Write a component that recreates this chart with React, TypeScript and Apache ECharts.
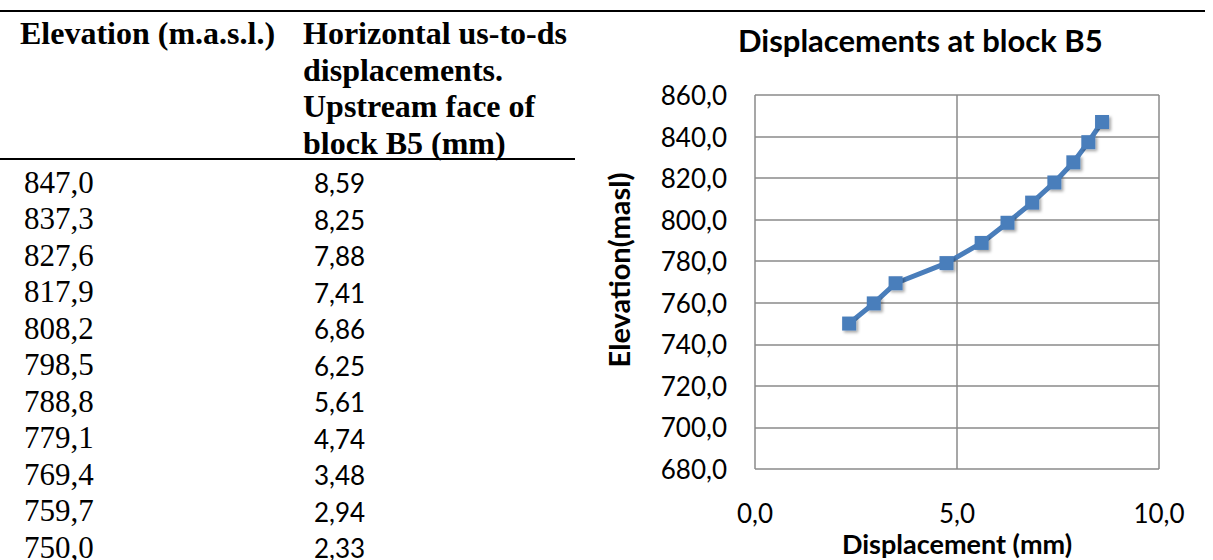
import React, { useEffect, useRef } from "react";
import * as echarts from "echarts";

const elevations = [847.0, 837.3, 827.6, 817.9, 808.2, 798.5, 788.8, 779.1, 769.4, 759.7, 750.0];
const displacements = [8.59, 8.25, 7.88, 7.41, 6.86, 6.25, 5.61, 4.74, 3.48, 2.94, 2.33];
const headerCol1 = ["Elevation (m.a.s.l.)"];
const headerCol2 = ["Horizontal us-to-ds", "displacements.", "Upstream face of", "block B5 (mm)"];
const chartTitle = "Displacements at block B5";
const xTitle = "Displacement (mm)";
const yTitle = "Elevation(masl)";

const comma = (v: number, d: number) => v.toFixed(d).replace(".", ",");

export default function App() {
  const ref = useRef<HTMLDivElement>(null);
  useEffect(() => {
    if (!ref.current) return;
    const chart = echarts.init(ref.current, undefined, { renderer: "svg" });
    const serif = "Liberation Serif";
    const sans = "Lato";
    const graphics: any[] = [];
    graphics.push({ type: "line", shape: { x1: 0, y1: 11, x2: 1205, y2: 11 }, style: { stroke: "#000", lineWidth: 2 } });
    graphics.push({ type: "line", shape: { x1: 0, y1: 159, x2: 575, y2: 159 }, style: { stroke: "#000", lineWidth: 2 } });
    headerCol1.forEach((t, i) => {
      graphics.push({ type: "text", x: 20, y: 33 + i * 36.6, style: { text: t, fontFamily: serif, fontWeight: "bold", fontSize: 32, fill: "#000", align: "left", verticalAlign: "middle" } });
    });
    headerCol2.forEach((t, i) => {
      graphics.push({ type: "text", x: 303, y: 33 + i * 36.6, style: { text: t, fontFamily: serif, fontWeight: "bold", fontSize: 32, fill: "#000", align: "left", verticalAlign: "middle" } });
    });
    elevations.forEach((e, i) => {
      const y = 182 + i * 36.5;
      graphics.push({ type: "text", x: 24, y, style: { text: comma(e, 1), fontFamily: serif, fontSize: 31, fill: "#000", align: "left", verticalAlign: "middle" } });
      graphics.push({ type: "text", x: 314, y: y + 1, style: { text: comma(displacements[i], 2), fontFamily: sans, fontSize: 26, fill: "#000", align: "left", verticalAlign: "middle" } });
    });
    graphics.push({
      type: "text",
      x: 618,
      y: 270,
      rotation: Math.PI / 2,
      style: { text: yTitle, fontFamily: sans, fontWeight: "bold", fontSize: 29, fill: "#000", align: "center", verticalAlign: "middle" },
    });
    graphics.push({
      type: "text",
      x: 957,
      y: 543,
      style: { text: xTitle, fontFamily: sans, fontWeight: "bold", fontSize: 27, fill: "#000", align: "center", verticalAlign: "middle" },
    });

    chart.setOption({
      animation: false,
      title: {
        text: chartTitle,
        left: 733,
        top: 19,
        textStyle: { fontFamily: sans, fontWeight: "bold", fontSize: 31, color: "#000" },
      },
      grid: { left: 755, right: 54, top: 95, bottom: 91, containLabel: false, outerBoundsMode: "none" },
      xAxis: {
        type: "value",
        min: 0,
        max: 10,
        interval: 5,
        axisLine: { show: false },
        axisTick: { show: false },
        axisLabel: { formatter: (v: number) => comma(v, 1), fontFamily: sans, fontSize: 26, color: "#000", margin: 31 },
        splitLine: { show: true, lineStyle: { color: "#8a8a8a", width: 1.5 } },
      },
      yAxis: {
        type: "value",
        min: 680,
        max: 860,
        interval: 20,
        axisLine: { show: false },
        axisTick: { show: false },
        axisLabel: { formatter: (v: number) => comma(v, 1), fontFamily: sans, fontSize: 26, color: "#000", margin: 28 },
        splitLine: { show: true, lineStyle: { color: "#8a8a8a", width: 1.5 } },
      },
      series: [
        {
          type: "line",
          data: displacements.map((d, i) => [d, elevations[i]]),
          symbol: "rect",
          symbolSize: 14,
          lineStyle: { color: "#4a7ebb", width: 5 },
          itemStyle: { color: "#4a7ebb", shadowBlur: 3, shadowOffsetX: 2, shadowOffsetY: 2, shadowColor: "rgba(0,0,0,0.35)" },
        },
      ],
      graphic: graphics,
    });
    return () => chart.dispose();
  }, []);
  return <div ref={ref} style={{ position: "absolute", left: 0, top: 0, width: 1213, height: 560 }} />;
}
